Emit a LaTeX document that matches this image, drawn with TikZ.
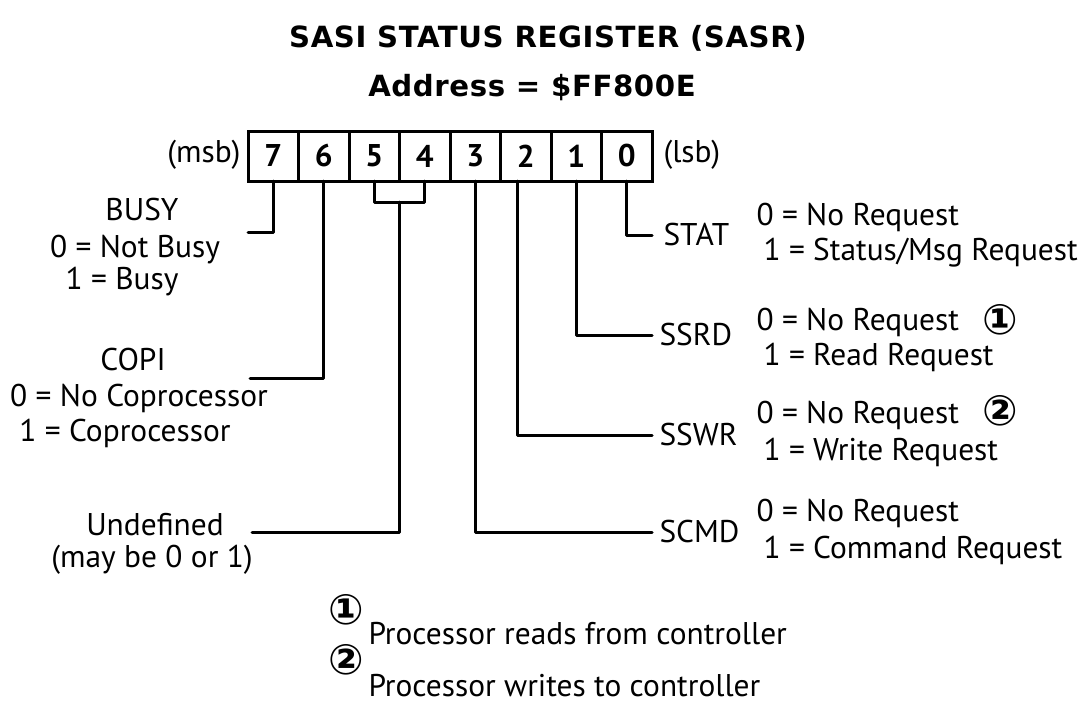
\documentclass[tikz,border=0pt]{standalone}
\usepackage{fontspec}
\usetikzlibrary{calc}
\setmainfont{PT Sans}
\newfontfamily\symfont{DejaVu Sans}
\newfontfamily\titlefont{DejaVu Sans}[LetterSpace=2]
\begin{document}
\begin{tikzpicture}[x=0.5pt,y=-0.5pt,
  line width=1.5pt,
  txt/.style={font=\fontsize{15.7}{18}\selectfont, inner sep=0pt},
  ttl/.style={font=\titlefont\fontsize{14.6}{18}\selectfont\bfseries, inner sep=0pt},
  cell/.style={draw, line width=1.5pt, minimum width=25.25pt, minimum height=25pt, inner sep=0pt, outer sep=0pt, font=\fontsize{15.7}{18}\selectfont\bfseries},
  circ/.style={font=\symfont\fontsize{21}{24}\selectfont\bfseries, inner sep=0pt},
  wire/.style={line width=1.5pt, line cap=round, line join=round}
]
\useasboundingbox (0,0) rectangle (1081,707);

% title
\node[ttl] (title) at (548,38) {SASI STATUS REGISTER (SASR)};
\node[ttl] (addr) at (532,88) {Address = \$FF800E};

% register cells
\node[cell] (b7) at (273.25,156) {7};
\node[cell] (b6) at (323.75,156) {6};
\node[cell] (b5) at (374.25,156) {5};
\node[cell] (b4) at (424.75,156) {4};
\node[cell] (b3) at (475.25,156) {3};
\node[cell] (b2) at (525.75,156) {2};
\node[cell] (b1) at (576.25,156) {1};
\node[cell] (b0) at (626.75,156) {0};
\node[txt, anchor=east] (msb) at (242,155) {(msb)};
\node[txt, anchor=west] (lsb) at (662,155) {(lsb)};

% left labels
\node[txt] (busy) at (142,210) {BUSY};
\node[txt] (busy0) at (135,250) {0 = Not Busy};
\node[txt] (busy1) at (122,282) {1 = Busy};
\node[txt] (copi) at (133,360) {COPI};
\node[txt] (copi0) at (139,398) {0 = No Coprocessor};
\node[txt] (copi1) at (125,433) {1 = Coprocessor};
\node[txt] (undef) at (155,525) {Undefined};
\node[txt] (undef1) at (152,560) {(may be 0 or 1)};
\coordinate (busyend) at (248,232);
\coordinate (copiend) at (250,378);
\coordinate (undefend) at (252,532);

% right labels
\node[txt, anchor=west] (stat) at (662,235) {STAT};
\node[txt, anchor=west] (stat0) at (755,217) {0 = No Request};
\node[txt, anchor=west] (stat1) at (762,253) {1 = Status/Msg Request};
\node[txt, anchor=west] (ssrd) at (658,335) {SSRD};
\node[txt, anchor=west] (ssrd0) at (755,322) {0 = No Request};
\node[txt, anchor=west] (ssrd1) at (762,357) {1 = Read Request};
\node[circ] (c1r) at (1000,320) {①};
\node[txt, anchor=west] (sswr) at (658,435) {SSWR};
\node[txt, anchor=west] (sswr0) at (755,415) {0 = No Request};
\node[txt, anchor=west] (sswr1) at (762,452) {1 = Write Request};
\node[circ] (c2r) at (1000,411) {②};
\node[txt, anchor=west] (scmd) at (658,532) {SCMD};
\node[txt, anchor=west] (scmd0) at (755,513) {0 = No Request};
\node[txt, anchor=west] (scmd1) at (762,550) {1 = Command Request};

% footnotes
\node[circ] (c1) at (346,610) {①};
\node[txt, anchor=west] (note1) at (367,634) {Processor reads from controller};
\node[circ] (c2) at (346,660) {②};
\node[txt, anchor=west] (note2) at (367,686) {Processor writes to controller};

% connectors
\draw[wire] (b7.south) |- (busyend);
\draw[wire] (b6.south) |- (copiend);
\draw[wire] (b5.south) -- ++(0,21) -| (b4.south);
\coordinate (brc) at ($(b5.south)!0.5!(b4.south)+(0,21)$);
\draw[wire] (brc) |- (undefend);
\draw[wire] (b3.south) |- ([xshift=-3pt]scmd.west);
\draw[wire] ([xshift=-4pt]b2.south) |- ([xshift=-3pt]sswr.west);
\draw[wire] (b1.south) |- ([xshift=-3pt]ssrd.west);
\draw[wire] (b0.south) |- ([xshift=-5pt]stat.west);
\end{tikzpicture}
\end{document}
